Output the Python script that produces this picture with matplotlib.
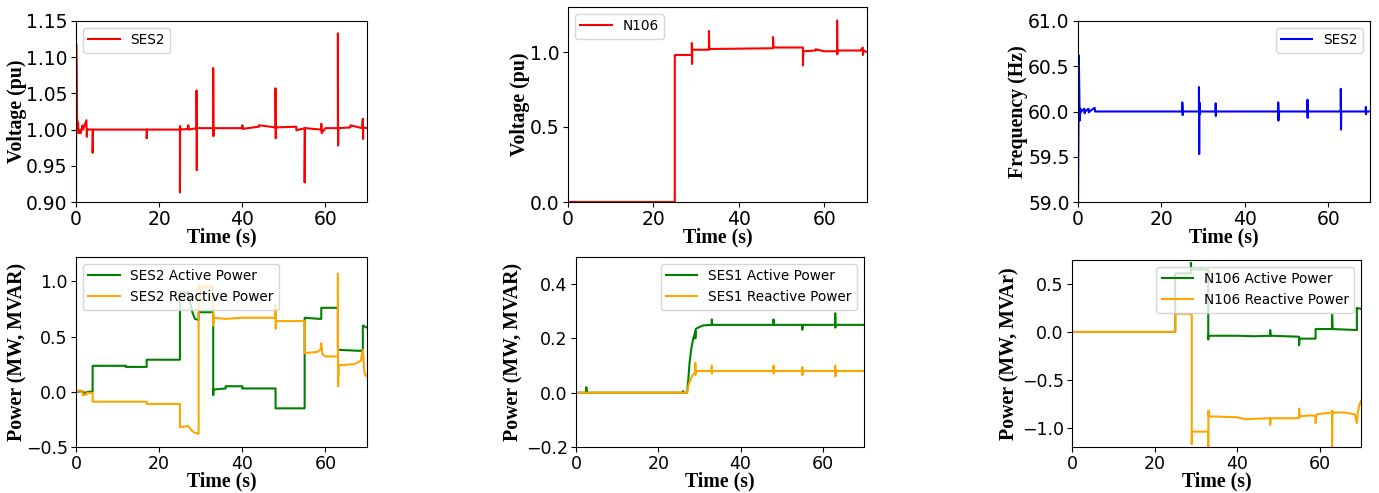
import matplotlib
matplotlib.use('Agg')
import matplotlib.pyplot as plt

# (time s, value) pairs
ses2_voltage = [(0, 1.0), (0, 0.90), (0.05, 1.118), (0.3, 1.0), (0.5, 1.01), (0.6, 0.995),
                (1.0, 1.0), (1.1, 0.995), (1.6, 1.006), (1.7, 1.0), (2.5, 1.013), (2.6, 0.99),
                (2.7, 1.0), (4.0, 1.0), (4.0, 0.968), (4.1, 1.0), (17.0, 1.0), (17.0, 0.988),
                (17.1, 1.0), (25.0, 1.0), (25.0, 0.913), (25.05, 1.005), (25.1, 1.0),
                (27.0, 1.001), (27.0, 1.006), (27.1, 1.0), (29.0, 1.002), (29.0, 1.054),
                (29.05, 0.944), (29.1, 1.002), (33.0, 1.002), (33.0, 1.085), (33.05, 0.991),
                (33.1, 1.002), (40.0, 1.002), (40.0, 1.006), (40.1, 1.001), (44.0, 1.004),
                (44.0, 1.006), (48.0, 1.003), (48.0, 1.057), (48.05, 0.988), (48.1, 1.003),
                (53.0, 1.004), (53.0, 0.999), (55.0, 1.002), (55.0, 0.927), (55.1, 1.002),
                (59.0, 1.0), (59.0, 1.008), (59.1, 0.995), (60.0, 1.002), (63.0, 1.002),
                (63.0, 1.133), (63.05, 0.978), (63.1, 1.002), (66.0, 1.003), (66.0, 1.006),
                (68.8, 1.002), (69.0, 1.015), (69.05, 0.987), (69.1, 1.003), (70.0, 1.002)]

n106_voltage = [(0, 0.0), (25.0, 0.0), (25.0, 0.98), (29.0, 0.98), (29.0, 1.06), (29.05, 0.92),
                (29.1, 1.015), (33.0, 1.015), (33.0, 1.14), (33.1, 1.02), (48.0, 1.025),
                (48.0, 1.10), (48.1, 1.03), (55.0, 1.03), (55.0, 0.91), (55.1, 1.005),
                (58.0, 1.01), (58.0, 1.018), (60.0, 1.005), (63.0, 1.005), (63.0, 1.21),
                (63.05, 0.985), (63.1, 1.01), (68.5, 1.01), (69.0, 1.03), (69.05, 0.98),
                (69.2, 1.01), (70.0, 1.0)]

ses2_freq = [(0, 60.0), (0, 59.0), (0.2, 60.62), (0.4, 59.9), (0.6, 60.03), (0.8, 60.0),
             (1.5, 60.03), (1.6, 59.98), (1.7, 60.0), (2.5, 60.03), (2.6, 59.99), (2.7, 60.0),
             (4.0, 60.04), (4.1, 60.0), (25.0, 60.0), (25.0, 60.1), (25.1, 59.96), (25.2, 60.0),
             (29.0, 60.0), (29.0, 60.27), (29.05, 59.53), (29.1, 60.1), (29.2, 59.97),
             (29.3, 60.0), (33.0, 60.0), (33.0, 60.09), (33.05, 59.95), (33.1, 60.0),
             (48.0, 60.0), (48.0, 60.1), (48.05, 59.9), (48.1, 60.0), (55.0, 60.0),
             (55.0, 60.13), (55.05, 59.93), (55.1, 60.0), (63.0, 60.0), (63.0, 60.25),
             (63.05, 59.8), (63.1, 60.0), (69.0, 60.0), (69.0, 60.05), (69.05, 59.97),
             (69.1, 60.0), (70.0, 60.0)]

ses2_p = [(0, 0.0), (1.5, 0.005), (2.0, -0.01), (3.0, 0.0), (4.0, 0.0), (4.0, 0.235),
          (12.0, 0.235), (12.0, 0.225), (17.0, 0.225), (17.0, 0.29), (25.0, 0.29), (25.0, 0.9),
          (27.0, 0.9), (27.5, 0.8), (28.0, 0.72), (28.6, 0.66), (29.5, 0.65), (29.5, 0.72),
          (33.0, 0.72), (33.0, -0.03), (33.1, 0.02), (36.0, 0.03), (36.0, 0.05), (40.0, 0.05),
          (40.0, 0.03), (48.0, 0.03), (48.0, -0.15), (55.0, -0.15), (55.0, 0.67), (58.5, 0.66),
          (59.0, 0.66), (59.0, 0.76), (63.0, 0.76), (63.0, 0.38), (68.5, 0.37), (69.0, 0.38),
          (69.0, 0.6), (70.0, 0.58)]

ses2_q = [(0, 0.01), (1.5, 0.01), (1.6, -0.03), (2.5, -0.025), (2.6, -0.01), (4.0, -0.01),
          (4.0, -0.09), (17.0, -0.09), (17.0, -0.11), (25.0, -0.11), (25.0, -0.32), (27.0, -0.31),
          (27.5, -0.34), (28.5, -0.37), (29.5, -0.38), (29.5, 0.97), (29.8, 0.9), (30.2, 0.95),
          (33.0, 0.95), (33.0, 0.6), (33.1, 0.67), (36.0, 0.66), (40.0, 0.67), (48.0, 0.67),
          (48.0, 0.79), (48.05, 0.57), (48.1, 0.64), (55.0, 0.64), (55.0, 0.35), (58.0, 0.36),
          (58.8, 0.38), (59.0, 0.44), (59.3, 0.34), (60.0, 0.32), (63.0, 0.32), (63.0, 1.07),
          (63.05, 0.05), (63.2, 0.24), (67.0, 0.25), (68.5, 0.28), (69.0, 0.38), (69.3, 0.2),
          (69.6, 0.15), (70.0, 0.14)]

ses1_p = [(0, 0.0), (2.5, 0.0), (2.5, 0.02), (2.6, 0.0), (26.0, 0.0), (26.0, 0.006),
          (26.1, 0.0), (27.0, 0.0), (27.3, 0.05), (27.6, 0.11), (28.0, 0.16), (28.5, 0.2),
          (29.0, 0.225), (29.0, 0.2), (29.1, 0.235), (30.0, 0.242), (31.0, 0.248), (33.0, 0.25),
          (33.0, 0.27), (33.1, 0.25), (48.0, 0.25), (48.0, 0.27), (48.1, 0.25), (55.0, 0.25),
          (55.0, 0.232), (55.1, 0.25), (63.0, 0.25), (63.0, 0.293), (63.05, 0.24), (63.1, 0.25),
          (70.0, 0.25)]

ses1_q = [(0, 0.0), (27.0, 0.0), (27.4, 0.03), (28.0, 0.055), (28.5, 0.068), (29.0, 0.075),
          (29.0, 0.11), (29.05, 0.065), (29.2, 0.078), (30.0, 0.08), (33.0, 0.08), (33.0, 0.1),
          (33.05, 0.07), (33.2, 0.08), (48.0, 0.08), (48.0, 0.1), (48.05, 0.07), (48.2, 0.08),
          (55.0, 0.08), (55.0, 0.095), (55.05, 0.065), (55.2, 0.08), (63.0, 0.08), (63.0, 0.1),
          (63.05, 0.06), (63.2, 0.08), (70.0, 0.08)]

n106_p = [(0, 0.0), (25.0, 0.0), (25.0, 0.61), (28.8, 0.61), (28.8, 0.72), (28.9, 0.65),
          (33.0, 0.65), (33.0, -0.08), (33.1, -0.04), (40.0, -0.04), (44.0, -0.045),
          (48.0, -0.04), (48.0, 0.02), (48.1, -0.04), (55.0, -0.05), (55.0, -0.14), (55.1, -0.07),
          (59.0, -0.07), (59.0, 0.03), (63.0, 0.03), (63.0, 0.18), (63.1, 0.03), (69.0, 0.02),
          (69.0, 0.25), (70.0, 0.24)]

n106_q = [(0, 0.0), (25.0, 0.0), (25.0, 0.19), (28.0, 0.19), (29.0, 0.18), (29.0, -1.05),
          (29.0, -1.17), (29.1, -1.04), (33.0, -1.04), (33.0, -1.2), (33.05, -0.82),
          (33.1, -0.88), (40.0, -0.89), (42.0, -0.91), (48.0, -0.9), (48.0, -0.97), (48.1, -0.9),
          (55.0, -0.9), (55.0, -0.8), (55.1, -0.88), (58.0, -0.87), (59.0, -0.88), (59.0, -0.95),
          (59.2, -0.86), (63.0, -0.84), (63.0, -1.3), (63.05, -0.82), (63.1, -0.84),
          (66.0, -0.84), (68.5, -0.86), (69.0, -0.95), (69.2, -0.85), (69.6, -0.76),
          (70.0, -0.72)]

W, H = 1379, 493
LAB = 14.3
LEG = 9.8
lab_font = dict(family='Liberation Serif', weight='bold', size=LAB)


def unzip(pts):
    return [p[0] for p in pts], [p[1] for p in pts]


def make_axes(fig, x0, y0, x1, y1):
    # pixel box (left, top, right, bottom) -> figure fraction
    return fig.add_axes([x0 / W, 1 - y1 / H, (x1 - x0) / W, (y1 - y0) / H])


def style(ax, ylabel, ylim, yticks, label_x, tick_size):
    ax.set_xlim(0, 70)
    ax.set_xticks([0, 20, 40, 60])
    ax.set_ylim(*ylim)
    ax.set_yticks(yticks)
    ax.tick_params(labelsize=tick_size, pad=2.5)
    ax.set_xlabel('Time (s)', fontdict=lab_font, labelpad=-1)
    ax.set_ylabel(ylabel, fontdict=lab_font)
    ax.yaxis.set_label_coords(label_x, 0.5)


fig = plt.figure(figsize=(W / 100, H / 100), dpi=100)

ax1 = make_axes(fig, 76, 21, 367, 202)
ax1.plot(*unzip(ses2_voltage), color='red', lw=1.5, label='SES2')
style(ax1, 'Voltage (pu)', (0.90, 1.15), [0.90, 0.95, 1.00, 1.05, 1.10, 1.15], -0.168, 13.5)
ax1.set_yticklabels(['0.90', '0.95', '1.00', '1.05', '1.10', '1.15'])
ax1.legend(loc='upper left', fontsize=LEG, handlelength=2.3)

ax2 = make_axes(fig, 568, 7, 867, 202)
ax2.plot(*unzip(n106_voltage), color='red', lw=1.5, label='N106')
style(ax2, 'Voltage (pu)', (0.0, 1.3), [0.0, 0.5, 1.0], -0.127, 13.5)
ax2.legend(loc='upper left', fontsize=LEG, handlelength=2.3)

ax3 = make_axes(fig, 1078, 21, 1370, 202)
ax3.plot(*unzip(ses2_freq), color='blue', lw=1.5, label='SES2')
style(ax3, 'Frequency (Hz)', (59.0, 61.0), [59.0, 59.5, 60.0, 60.5, 61.0], -0.171, 13.5)
ax3.legend(loc='upper right', fontsize=LEG, handlelength=2.3)

ax4 = make_axes(fig, 76, 257, 367, 447)
ax4.plot(*unzip(ses2_p), color='green', lw=1.5, label='SES2 Active Power')
ax4.plot(*unzip(ses2_q), color='orange', lw=1.5, label='SES2 Reactive Power')
style(ax4, 'Power (MW, MVAR)', (-0.5, 1.22), [-0.5, 0.0, 0.5, 1.0], -0.168, 12.5)
ax4.legend(loc='upper left', fontsize=LEG, handlelength=2.3)

ax5 = make_axes(fig, 576, 257, 864, 447)
ax5.plot(*unzip(ses1_p), color='green', lw=1.5, label='SES1 Active Power')
ax5.plot(*unzip(ses1_q), color='orange', lw=1.5, label='SES1 Reactive Power')
style(ax5, 'Power (MW, MVAR)', (-0.2, 0.5), [-0.2, 0.0, 0.2, 0.4], -0.184, 12.5)
ax5.legend(loc='upper right', fontsize=LEG, handlelength=2.3)

ax6 = make_axes(fig, 1072, 260, 1361, 447)
ax6.plot(*unzip(n106_p), color='green', lw=1.5, label='N106 Active Power')
ax6.plot(*unzip(n106_q), color='orange', lw=1.5, label='N106 Reactive Power')
style(ax6, 'Power (MW, MVAr)', (-1.2, 0.75), [-1.0, -0.5, 0.0, 0.5], -0.18, 12.5)
ax6.legend(loc='upper right', fontsize=LEG, handlelength=2.3)

fig.savefig('out.png', dpi=100)
